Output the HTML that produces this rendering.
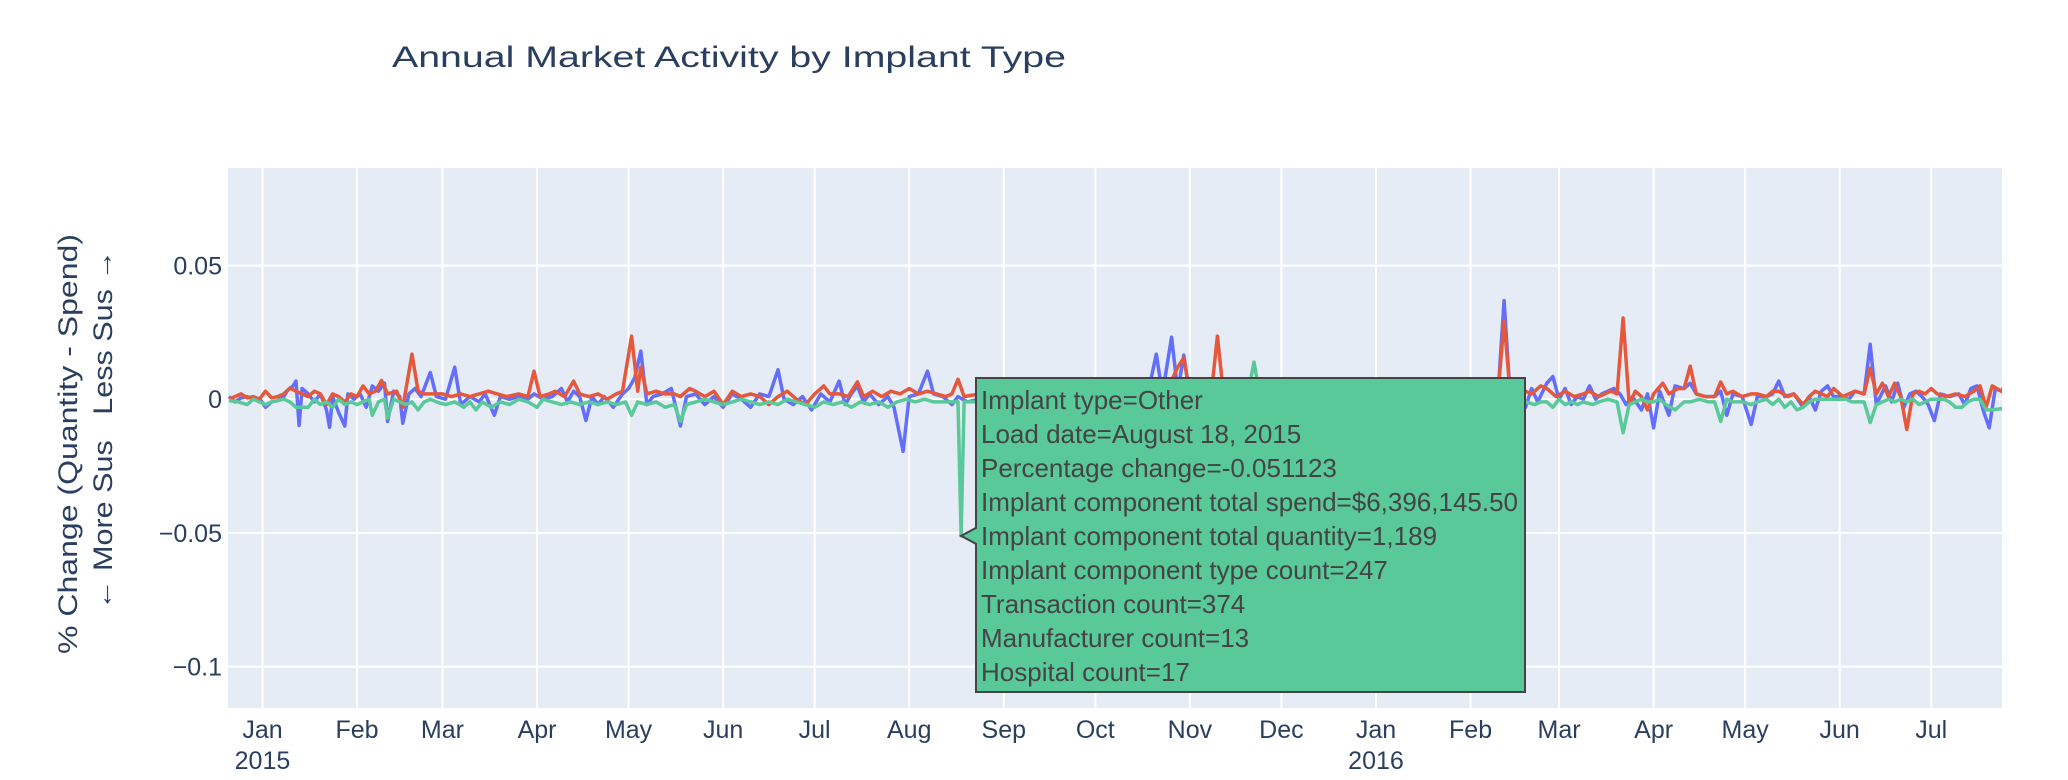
<!DOCTYPE html>
<html><head><meta charset="utf-8"><style>
html,body{margin:0;padding:0;background:#fff;}
svg{display:block;font-family:"Liberation Sans",Arial,sans-serif;}
</style></head><body>
<svg id="chart" width="2068" height="780" viewBox="0 0 2068 780">
<rect x="0" y="0" width="2068" height="780" fill="#fff"/>
<text x="392" y="67" font-size="30" fill="#2a3f5f" textLength="674" lengthAdjust="spacingAndGlyphs">Annual Market Activity by Implant Type</text>
<rect x="228" y="168" width="1774" height="540" fill="#E5ECF6"/>
<g id="grid"></g>
<g id="yticks"></g>
<g id="xticks"></g>
<text transform="translate(77,444) rotate(-90)" text-anchor="middle" font-size="27" fill="#2a3f5f" textLength="420" lengthAdjust="spacingAndGlyphs">% Change (Quantity - Spend)</text>
<text transform="translate(112,430) rotate(-90)" text-anchor="middle" font-size="27" fill="#2a3f5f" textLength="360" lengthAdjust="spacingAndGlyphs">← More Sus&#160;&#160;&#160;Less Sus →</text>
<g id="series"></g>
<g id="tooltip"></g>
</svg>
<script>
const yTickVals = [0.05, 0, -0.05, -0.1];
const yTickLabels = ["0.05", "0", "\u22120.05", "\u22120.1"];
const xTickDays = [0, 31, 59, 90, 120, 151, 181, 212, 243, 273, 304, 334, 365, 396, 425, 456, 486, 517, 547];
const xTickLabels = ["Jan", "Feb", "Mar", "Apr", "May", "Jun", "Jul", "Aug", "Sep", "Oct", "Nov", "Dec", "Jan", "Feb", "Mar", "Apr", "May", "Jun", "Jul"];
const xYearLabels = ["2015", "", "", "", "", "", "", "", "", "", "", "", "2016", "", "", "", "", "", ""];

const blueDays = [-11,-9,-7,-5,-3,-1,1,3,5,7,8,10,11,12,13,15,17,19,21,22,23,25,27,28,30,32,34,36,38,40,41,43,45,46,48,50,52,55,57,60,63,65,68,71,73,76,78,81,84,87,89,92,95,98,100,102,104,106,108,110,112,115,118,120,122,124,126,128,131,134,137,139,142,145,148,151,154,157,160,163,166,169,171,174,177,180,183,186,189,191,193,195,197,199,202,205,207,210,212,215,218,220,223,226,228,231,235,240,245,250,255,260,265,270,275,280,285,290,293,295,298,300,302,304,308,313,316,320,325,330,340,350,360,370,380,390,400,405,407,409,412,414,416,418,421,423,425,427,429,431,433,435,437,439,441,443,445,447,449,452,454,456,458,461,463,466,468,470,473,476,478,480,482,485,488,490,493,495,497,499,502,505,507,509,511,513,515,518,520,522,525,527,529,532,534,536,538,540,542,544,546,548,550,553,556,558,560,562,564,566,568,570,572];
const blueVals = [0.001,-0.001,0.0005,0.001,0,0.0003,-0.003,-0.001,-0.0005,0.001,0.003,0.005,0.0068,-0.0098,0.004,0.002,-0.001,0.002,-0.004,-0.0105,0.001,-0.005,-0.010,0.002,0,0.002,-0.003,0.005,0.003,0.006,-0.0083,0.003,0.001,-0.009,0.002,0.004,0.001,0.010,0.001,0,0.012,-0.002,0.001,-0.001,0.002,-0.006,0.001,0,0.001,0,0.002,0,0.001,0.004,-0.001,0.003,0.001,-0.008,0.001,-0.002,0.001,-0.003,0.002,0.004,0.008,0.018,-0.002,0.001,0.002,0.004,-0.010,0.001,0.002,-0.002,0.001,-0.003,0.002,0,-0.003,0.002,0.001,0.011,0,-0.002,0.001,-0.004,0.002,-0.001,0.0068,-0.002,0.002,0.005,-0.001,0.002,-0.002,0.001,-0.003,-0.0195,0.001,0.002,0.0105,0.002,0.001,-0.002,0.001,-0.001,0,0.001,-0.001,0.001,0,-0.001,0.001,0,0.001,0,0.002,0.001,0.0169,0.002,0.0232,0.003,0.0165,0.001,0.002,0.003,0.001,0.002,0.001,0,0.001,0,0.001,0,0.001,0.002,0.001,0.002,0.0369,0.001,0.002,-0.003,0.004,-0.001,0.006,0.0085,0,0.004,-0.002,0.001,0,0.005,0,0.002,0.003,0.004,0.002,-0.002,0.001,-0.004,0.002,-0.0107,0.003,-0.006,0.005,0.004,0.006,0.002,0.001,0.001,0.003,-0.006,0.002,0.001,-0.0094,0.001,0.001,0.002,0.0068,0.001,0.002,-0.003,0.001,-0.004,0.003,0.005,0.001,0.001,0,0.003,0.002,0.0206,-0.002,0.005,-0.001,0.006,-0.003,0.002,0.003,0.001,-0.002,-0.008,0.002,0.001,0.002,-0.002,0.004,0.005,-0.004,-0.0107,0.004,0.003,0.002];

const redDays = [-11,-9,-7,-5,-3,-1,1,3,5,7,9,11,13,15,17,19,21,23,25,27,29,31,33,35,37,39,41,44,46,49,51,53,56,59,62,65,68,71,74,77,80,84,87,89,91,94,96,99,102,104,107,110,113,116,118,121,123,124,126,129,132,135,137,140,142,145,148,151,154,157,160,163,166,169,172,175,178,181,184,186,189,192,195,197,200,203,206,209,212,215,218,221,224,226,228,230,235,240,250,260,270,280,290,296,300,302,304,308,311,313,315,320,330,350,370,390,405,407,409,412,414,416,419,421,424,427,430,433,435,438,440,442,444,446,448,450,452,454,456,459,461,464,466,468,470,473,476,478,480,482,485,488,490,493,495,497,500,502,505,507,509,511,513,515,518,520,522,525,527,529,531,533,535,537,539,541,543,545,547,549,552,555,558,561,563,565,567,570,572];
const redVals = [0,0.001,0.002,0.0005,0.001,0,0.003,0.0005,0.001,0.002,0.0042,0.003,0.002,0.001,0.003,0.002,-0.002,0.002,0.001,-0.001,0.002,0.001,0.005,0.002,0.003,0.007,0.002,0.003,-0.003,0.0169,0.003,0.002,0.002,0.002,0.001,0.002,0.001,0.002,0.003,0.002,0.001,0.002,0.001,0.0105,0.001,0.002,0.003,0.001,0.0068,0.002,0.001,0.002,0,0.002,0.003,0.0236,0.003,0.012,0.002,0.003,0.002,0.002,0.001,0.004,0.003,0.001,0.003,-0.002,0.003,0.001,0.002,0.001,-0.002,0.001,0.003,0,-0.002,0.002,0.005,0.002,0.002,0.001,0.0065,0.001,0.003,0.001,0.003,0.002,0.004,0.002,0.003,0.002,0.001,0.002,0.0075,0.001,0.002,0.001,0.002,0.001,0.002,0.001,0.002,0.002,0.012,0.0155,0.002,0.001,0.002,0.0236,0.002,0.001,0.002,0.001,0.002,0.001,0.002,0.0294,0.002,0.001,0.003,0.002,0.005,0.004,0.001,0.003,0.001,0.002,0.003,0.001,0.002,0.003,0.002,0.0304,-0.002,0.003,0.001,-0.004,0.002,0.006,0.002,0.004,0.004,0.0124,0.002,0.001,0.001,0.0064,0.002,0.003,0.001,0.002,0.002,0.001,0.003,0.003,0.001,0.002,-0.002,0.001,0.003,0.002,0.001,0.004,0.001,0.002,0.003,0.002,0.0116,0.002,0.006,0.001,0.006,0.001,-0.0113,0.002,0.003,0.002,0.004,0.002,0.001,0.002,0.001,0.003,0.005,-0.003,0.005,0.003,0.007];

const greenDays = [-11,-8,-5,-3,-1,1,3,5,7,9,11,13,15,17,19,21,23,25,27,29,31,33,35,36,38,40,41,43,45,47,49,51,53,55,57,60,63,66,68,70,72,75,78,81,84,87,90,92,95,98,101,104,107,110,113,116,119,121,123,126,129,132,135,137,139,142,145,148,151,154,157,160,163,166,169,172,175,178,181,184,187,190,193,196,199,202,205,208,211,214,217,220,223,226,228,229,230,233,240,250,260,270,280,290,300,310,320,323,325,327,330,340,360,380,400,405,408,410,412,414,417,419,421,423,425,427,429,431,433,436,438,441,444,446,448,450,452,454,456,458,460,463,466,468,471,474,476,478,480,482,485,488,490,493,495,497,499,501,503,505,507,509,511,513,515,517,519,521,525,527,529,531,533,535,537,539,541,543,545,547,549,551,553,555,557,559,561,563,565,567,570,572];
const greenVals = [-0.0005,-0.001,-0.002,0,-0.001,-0.002,-0.001,-0.0005,0,-0.001,-0.003,-0.003,-0.003,0,-0.002,-0.001,-0.003,0,-0.002,-0.001,-0.002,-0.001,0,-0.006,-0.001,0,-0.007,0,-0.001,-0.002,-0.001,-0.004,-0.001,0,-0.001,-0.002,-0.001,-0.003,-0.001,-0.004,-0.001,-0.003,-0.001,-0.002,0,-0.001,-0.003,0,-0.001,-0.002,-0.001,-0.002,-0.001,-0.002,-0.001,-0.002,-0.001,-0.006,-0.001,-0.002,-0.001,-0.003,-0.002,-0.0083,-0.002,-0.001,0,-0.001,-0.002,-0.001,0,-0.001,-0.002,-0.001,-0.002,0,-0.001,-0.002,-0.003,-0.001,-0.002,-0.001,-0.003,-0.001,-0.002,-0.001,-0.003,-0.001,0,-0.001,0,-0.001,-0.001,-0.001,-0.001,-0.051123,-0.001,-0.001,-0.001,0,-0.001,0,-0.001,0,-0.001,0,-0.001,0.002,0.0139,0.001,0,-0.001,0,-0.001,0,0,-0.001,0,-0.002,-0.001,-0.002,-0.001,-0.001,-0.003,0,-0.002,-0.001,-0.002,-0.001,-0.002,-0.001,0,-0.001,-0.0125,-0.002,-0.001,0,-0.001,-0.001,0,-0.002,-0.004,-0.001,-0.001,0,-0.001,-0.001,-0.0083,0,-0.001,-0.001,-0.002,-0.001,0,-0.002,0,-0.003,-0.001,-0.004,-0.003,-0.001,0,0,0,0,0,0,-0.001,-0.001,-0.0087,-0.002,-0.001,0,-0.001,0,-0.001,0,-0.002,-0.001,0,0,0,-0.001,-0.003,-0.003,-0.001,0,0,-0.004,-0.004,-0.0035,-0.0035];

const tooltipLines = ["Implant type=Other","Load date=August 18, 2015","Percentage change=-0.051123","Implant component total spend=$6,396,145.50","Implant component total quantity=1,189","Implant component type count=247","Transaction count=374","Manufacturer count=13","Hospital count=17"];
const tooltipDay = 229;
const tooltipVal = -0.051123;

const NS = "http://www.w3.org/2000/svg";
const PX0 = 228, PX1 = 2002, PY0 = 168, PY1 = 708;
const DAY_MIN = -11.3, DAY_MAX = 570.2, Y_MIN = -0.1155, Y_MAX = 0.0865;
function xScale(d){ return PX0 + (d - DAY_MIN) / (DAY_MAX - DAY_MIN) * (PX1 - PX0); }
function yScale(v){ return PY1 - (v - Y_MIN) / (Y_MAX - Y_MIN) * (PY1 - PY0); }
function mk(tag, attrs, parent){ const e = document.createElementNS(NS, tag); for (const k in attrs) e.setAttribute(k, attrs[k]); parent.appendChild(e); return e; }

const grid = document.getElementById('grid');
const yt = document.getElementById('yticks');
const xt = document.getElementById('xticks');
yTickVals.forEach((v, i) => {
  const y = yScale(v);
  const l = mk('line', {x1: PX0, x2: PX1, y1: y, y2: y, stroke: '#fff', 'stroke-width': 2}, grid);
  
  
  const t = mk('text', {x: 222, y: y + 9, 'text-anchor': 'end', 'font-size': 25, fill: '#2a3f5f'}, yt);
  t.textContent = yTickLabels[i];
  
  
});
xTickDays.forEach((d, i) => {
  const x = xScale(d);
  const l = mk('line', {x1: x, x2: x, y1: PY0, y2: PY1, stroke: '#fff', 'stroke-width': 2}, grid);
  
  
  const t = mk('text', {x: x, y: 738, 'text-anchor': 'middle', 'font-size': 25, fill: '#2a3f5f'}, xt);
  t.textContent = xTickLabels[i];
  
  
  if (xYearLabels[i]) {
    const t2 = mk('text', {x: x, y: 769, 'text-anchor': 'middle', 'font-size': 25, fill: '#2a3f5f'}, xt);
    t2.textContent = xYearLabels[i];
    
    
  }
});

const series = document.getElementById('series');
function drawLine(days, vals, color, name){
  const pts = days.map((d, i) => xScale(d).toFixed(1) + ',' + yScale(vals[i]).toFixed(1)).join(' ');
  const p = mk('polyline', {points: pts, fill: 'none', stroke: color, 'stroke-width': 3.5, 'stroke-linejoin': 'round', 'clip-path': 'url(#clip)'}, series);
  
  
}
const defs = mk('defs', {}, document.getElementById('chart'));
const cp = mk('clipPath', {id: 'clip'}, defs);
mk('rect', {x: PX0, y: PY0, width: PX1 - PX0, height: PY1 - PY0}, cp);
drawLine(blueDays, blueVals, '#636efa', 'series-blue-line');
drawLine(redDays, redVals, '#e5583c', 'series-red-line');
drawLine(greenDays, greenVals, '#5ac99a', 'series-green-line');

const tt = document.getElementById('tooltip');
const ax = xScale(tooltipDay), ay = yScale(tooltipVal);
const bx = 976, by = 378, bw = 549, bh = 314;
const path = `M${ax},${ay} L${bx},${ay-8} L${bx},${by} L${bx+bw},${by} L${bx+bw},${by+bh} L${bx},${by+bh} L${bx},${ay+8} Z`;
const box = mk('path', {d: path, fill: '#5ac99a', stroke: '#444', 'stroke-width': 2}, tt);


tooltipLines.forEach((s, i) => {
  const t = mk('text', {x: bx + 5, y: by + 31 + i * 34, 'font-size': 26, fill: '#444'}, tt);
  t.textContent = s;
  
  
});
</script>
</body></html>
